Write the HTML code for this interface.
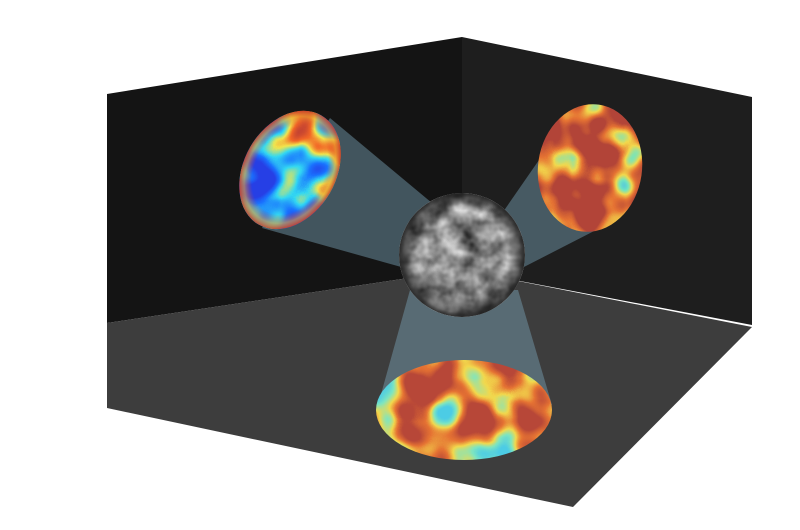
<!DOCTYPE html>
<html><head><meta charset="utf-8"><style>html,body{margin:0;padding:0;background:#fff;width:800px;height:530px;overflow:hidden}</style></head>
<body>
<svg width="800" height="530" viewBox="0 0 800 530" color-interpolation-filters="sRGB">
<defs>
<filter id="jetBlue" x="0" y="0" width="100%" height="100%" color-interpolation-filters="sRGB">
<feTurbulence type="fractalNoise" baseFrequency="0.025" numOctaves="2" seed="7" result="n"/>
<feColorMatrix in="n" type="matrix" values="2 0 0 0 -0.65  2 0 0 0 -0.65  2 0 0 0 -0.65  0 0 0 0 1"/>
<feComponentTransfer>
<feFuncR type="table" tableValues="0.15 0.1 0.2 0.95 0.95 0.75"/>
<feFuncG type="table" tableValues="0.25 0.45 0.85 0.9 0.4 0.25"/>
<feFuncB type="table" tableValues="0.9 1 0.95 0.3 0.15 0.2"/>
</feComponentTransfer>
</filter>
<filter id="jetRed" x="0" y="0" width="100%" height="100%" color-interpolation-filters="sRGB">
<feTurbulence type="fractalNoise" baseFrequency="0.028" numOctaves="2" seed="11" result="n"/>
<feColorMatrix in="n" type="matrix" values="2 0 0 0 -0.3  2 0 0 0 -0.3  2 0 0 0 -0.3  0 0 0 0 1"/>
<feComponentTransfer>
<feFuncR type="table" tableValues="0.3 0.45 0.95 0.9 0.7 0.7"/>
<feFuncG type="table" tableValues="0.75 0.9 0.85 0.45 0.27 0.27"/>
<feFuncB type="table" tableValues="0.9 0.75 0.3 0.2 0.22 0.22"/>
</feComponentTransfer>
</filter>
<filter id="jetRed2" x="0" y="0" width="100%" height="100%" color-interpolation-filters="sRGB">
<feTurbulence type="fractalNoise" baseFrequency="0.025" numOctaves="2" seed="23" result="n"/>
<feColorMatrix in="n" type="matrix" values="2 0 0 0 -0.45  2 0 0 0 -0.45  2 0 0 0 -0.45  0 0 0 0 1"/>
<feComponentTransfer>
<feFuncR type="table" tableValues="0.3 0.5 0.95 0.9 0.72 0.72"/>
<feFuncG type="table" tableValues="0.8 0.9 0.85 0.45 0.28 0.28"/>
<feFuncB type="table" tableValues="0.9 0.75 0.3 0.2 0.22 0.22"/>
</feComponentTransfer>
</filter>
<filter id="gray" x="0" y="0" width="100%" height="100%" color-interpolation-filters="sRGB">
<feTurbulence type="fractalNoise" baseFrequency="0.05" numOctaves="3" seed="3"/>
<feColorMatrix type="matrix" values="1 1 0 0 -0.45  1 1 0 0 -0.45  1 1 0 0 -0.45  0 0 0 0 1"/>
</filter>
<radialGradient id="cellShade" cx="0.5" cy="0.5" r="0.5">
<stop offset="0.72" stop-color="#000" stop-opacity="0"/>
<stop offset="0.93" stop-color="#000" stop-opacity="0.5"/>
<stop offset="1" stop-color="#222" stop-opacity="0.9"/>
</radialGradient>
<radialGradient id="redRim" cx="0.5" cy="0.5" r="0.5">
<stop offset="0.75" stop-color="#d9452b" stop-opacity="0"/>
<stop offset="0.9" stop-color="#e8a030" stop-opacity="0.6"/>
<stop offset="1" stop-color="#c8402a" stop-opacity="0.9"/>
</radialGradient>
<clipPath id="cL"><ellipse cx="290" cy="170" rx="46" ry="63" transform="rotate(30 290 170)"/></clipPath>
<clipPath id="cR"><ellipse cx="590" cy="168" rx="52" ry="64" transform="rotate(8 590 168)"/></clipPath>
<clipPath id="cB"><ellipse cx="464" cy="410" rx="88" ry="50"/></clipPath>
<clipPath id="cC"><ellipse cx="462" cy="255" rx="63" ry="62"/></clipPath>
</defs>

<polygon points="107,94 462,37 462,270 107,323" fill="#141414"/>
<polygon points="462,37 752,97 752,325 462,270" fill="#1e1e1e"/>
<polygon points="107,323 462,270 752,327 573,507 107,408" fill="#3d3d3d"/>

<g fill="#7aa4b8" fill-opacity="0.45">
<polygon points="330,118 262,228 412,270 438,208"/>
<polygon points="575,108 600,228 522,268 503,212"/>
<polygon points="410,290 518,290 552,405 378,405"/>
</g>

<g clip-path="url(#cL)"><rect x="225" y="100" width="130" height="140" filter="url(#jetBlue)"/>
<ellipse cx="290" cy="170" rx="46" ry="63" transform="rotate(30 290 170)" fill="url(#redRim)"/></g>
<g clip-path="url(#cR)"><rect x="530" y="100" width="120" height="135" filter="url(#jetRed)"/></g>
<g clip-path="url(#cB)"><rect x="370" y="355" width="190" height="110" filter="url(#jetRed2)"/></g>

<g clip-path="url(#cC)">
<rect x="395" y="190" width="135" height="130" fill="#8a8a8a"/>
<rect x="395" y="190" width="135" height="130" filter="url(#gray)" opacity="0.75"/>
<ellipse cx="462" cy="255" rx="63" ry="62" fill="url(#cellShade)"/>
</g>
</svg>
</body></html>
